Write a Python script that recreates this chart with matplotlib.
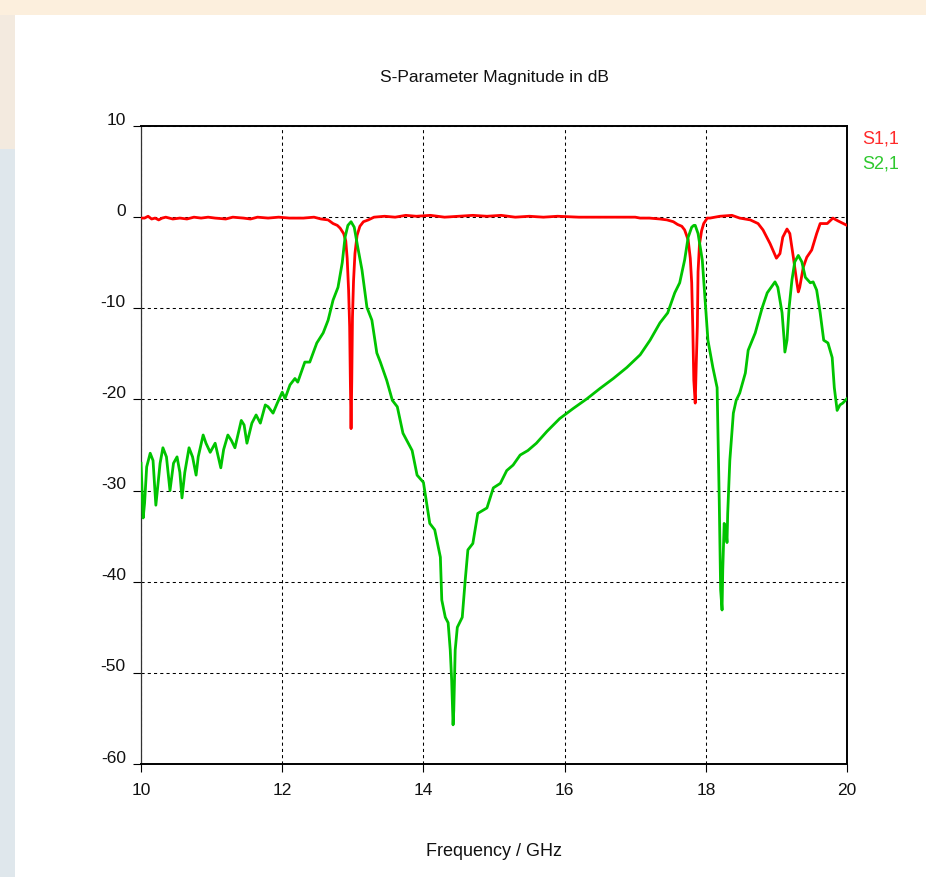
#!/usr/bin/env python3
"""S-Parameter magnitude (S1,1 / S2,1) of a dual-band filter, 10-20 GHz."""

import matplotlib
matplotlib.use('Agg')
import matplotlib.pyplot as plt
import matplotlib.patches as mpatches
from matplotlib.transforms import ScaledTranslation

FONT = ['Liberation Sans', 'DejaVu Sans']
plt.rcParams['axes.unicode_minus'] = False

# ─── Data ───

s11_freq = [10.0, 10.05, 10.1, 10.15, 10.2, 10.25, 10.3, 10.35, 10.45, 10.55,
            10.65, 10.75, 10.85, 10.95, 11.05, 11.2, 11.3, 11.45, 11.55, 11.65,
            11.8, 11.95, 12.1, 12.3, 12.45, 12.55, 12.65, 12.72, 12.78, 12.82,
            12.87, 12.9, 12.92, 12.94, 12.955, 12.965, 12.975, 12.985, 12.995,
            13.01, 13.03, 13.06, 13.1, 13.15, 13.22, 13.3, 13.45, 13.6, 13.75,
            13.9, 14.1, 14.3, 14.5, 14.7, 14.9, 15.1, 15.3, 15.5, 15.7, 15.9,
            16.2, 16.6, 17.0, 17.07, 17.2, 17.35, 17.45, 17.54, 17.6, 17.66,
            17.7, 17.75, 17.78, 17.8, 17.815, 17.83, 17.85, 17.865, 17.88,
            17.89, 17.91, 17.94, 17.97, 18.02, 18.06, 18.2, 18.37, 18.48,
            18.63, 18.74, 18.81, 18.91, 19.0, 19.05, 19.09, 19.15, 19.19,
            19.24, 19.29, 19.31, 19.33, 19.38, 19.43, 19.5, 19.57, 19.62,
            19.72, 19.8, 19.87, 20.0]
s11_db = [-0.1, -0.1, 0.1, -0.2, -0.1, -0.3, -0.1, 0.0, -0.2, -0.1,
          -0.2, 0.0, -0.1, 0.0, -0.1, -0.2, 0.0, -0.1, -0.2, 0.0,
          -0.1, 0.0, -0.1, -0.1, 0.0, -0.2, -0.3, -0.7, -0.9, -1.2,
          -1.8, -2.6, -4.5, -8.0, -12.0, -18.0, -23.2, -18.0, -11.0,
          -7.0, -4.0, -2.0, -1.0, -0.5, -0.3, 0.0, 0.1, 0.0, 0.2,
          0.1, 0.2, 0.0, 0.1, 0.2, 0.1, 0.2, 0.0, 0.1, 0.0, 0.1,
          0.0, 0.0, 0.0, -0.1, -0.1, -0.2, -0.3, -0.5, -0.8, -1.0,
          -1.4, -2.5, -4.5, -7.2, -12.0, -17.9, -20.4, -16.0, -12.0,
          -6.0, -3.0, -1.5, -0.7, -0.1, -0.1, 0.1, 0.2, -0.1,
          -0.3, -0.7, -1.4, -2.9, -4.5, -4.0, -2.2, -1.3, -1.8,
          -4.4, -7.2, -8.2, -7.7, -5.5, -4.4, -3.6, -1.8, -0.7,
          -0.7, -0.1, -0.4, -0.9]

s21_freq = [10.0, 10.03, 10.05, 10.08, 10.13, 10.17, 10.21, 10.27, 10.31,
            10.36, 10.41, 10.46, 10.51, 10.55, 10.58, 10.62, 10.68, 10.73,
            10.78, 10.81, 10.88, 10.92, 10.98, 11.05, 11.13, 11.17, 11.23,
            11.28, 11.33, 11.42, 11.46, 11.5, 11.57, 11.63, 11.69, 11.76,
            11.8, 11.87, 11.93, 12.0, 12.04, 12.11, 12.18, 12.22, 12.32,
            12.39, 12.49, 12.58, 12.65, 12.72, 12.79, 12.85, 12.89, 12.93,
            12.975, 13.02, 13.07, 13.13, 13.2, 13.27, 13.34, 13.39, 13.48,
            13.56, 13.63, 13.71, 13.84, 13.91, 14.0, 14.09, 14.16, 14.24,
            14.26, 14.31, 14.35, 14.38, 14.4, 14.42, 14.43, 14.45, 14.48,
            14.55, 14.59, 14.63, 14.7, 14.77, 14.9, 14.99, 15.09, 15.18,
            15.27, 15.37, 15.48, 15.6, 15.75, 15.93, 16.12, 16.32, 16.5,
            16.69, 16.88, 17.07, 17.21, 17.35, 17.46, 17.56, 17.63, 17.7,
            17.75, 17.8, 17.83, 17.85, 17.89, 17.95, 17.99, 18.03, 18.1,
            18.16, 18.17, 18.19, 18.21, 18.23, 18.24, 18.26, 18.29, 18.3,
            18.31, 18.34, 18.39, 18.43, 18.48, 18.56, 18.6, 18.7, 18.8,
            18.87, 18.98, 19.02, 19.08, 19.11, 19.12, 19.15, 19.18, 19.22,
            19.26, 19.31, 19.36, 19.41, 19.48, 19.52, 19.57, 19.62, 19.67,
            19.73, 19.79, 19.82, 19.86, 19.9, 19.94, 20.0]
s21_db = [-27.0, -33.0, -31.4, -27.4, -25.9, -26.7, -31.6, -27.0, -25.3,
          -26.3, -30.0, -27.0, -26.3, -28.0, -30.8, -28.0, -25.3, -26.3,
          -28.3, -26.3, -23.9, -24.8, -25.8, -24.8, -27.5, -25.5, -23.9,
          -24.5, -25.3, -22.3, -22.8, -24.8, -22.6, -21.7, -22.6, -20.6,
          -20.8, -21.5, -20.4, -19.2, -19.9, -18.4, -17.7, -18.1, -15.9,
          -15.9, -13.8, -12.7, -11.3, -9.1, -7.7, -5.0, -2.2, -0.9,
          -0.5, -1.1, -3.3, -5.8, -9.9, -11.3, -14.9, -15.9, -17.9,
          -20.1, -20.8, -23.7, -25.6, -28.3, -29.1, -33.6, -34.3, -37.3,
          -42.0, -43.9, -44.5, -47.5, -50.8, -55.7, -54.1, -47.5, -45.0,
          -43.9, -40.0, -36.5, -35.8, -32.5, -31.9, -29.7, -29.2, -27.8,
          -27.2, -26.1, -25.6, -24.8, -23.5, -22.1, -21.0, -19.9, -18.8,
          -17.7, -16.5, -15.1, -13.5, -11.6, -10.5, -8.3, -7.2, -4.7,
          -2.2, -1.1, -0.9, -0.9, -1.8, -4.7, -9.1, -13.5, -16.5,
          -18.7, -23.0, -31.0, -40.9, -43.1, -38.7, -33.6, -34.7, -35.7,
          -32.5, -26.7, -21.5, -20.1, -19.3, -17.1, -14.6, -12.7, -9.9,
          -8.3, -7.1, -7.7, -10.5, -13.5, -14.8, -13.5, -9.9, -6.9,
          -4.9, -4.2, -4.9, -6.6, -7.2, -7.1, -8.0, -10.5, -13.5,
          -13.8, -15.4, -18.7, -21.2, -20.6, -20.4, -19.9]

x_ticks = [10, 12, 14, 16, 18, 20]
y_ticks = [10, 0, -10, -20, -30, -40, -50, -60]

C_S11 = '#ff0000'
C_S21 = '#00c400'

# ─── Figure with the screenshot-like border ───

fig = plt.figure(figsize=(9.26, 8.77), dpi=100)
fig.patch.set_facecolor('#dfe7ec')
border = [
    ((0, 0.83), 0.017, 0.17, '#f3eadf'),
    ((0, 0.983), 1, 0.017, '#fcefdd'),
    ((0.0162, 0), 1, 0.983, 'white'),
]
for xy, w, h, c in border:
    fig.patches.append(mpatches.Rectangle(xy, w, h, transform=fig.transFigure,
                                          facecolor=c, edgecolor='none', zorder=-5))

ax = fig.add_axes([0.1523, 0.1288, 0.7624, 0.7275])
ax.set_facecolor('white')

ax.plot(s11_freq, s11_db, color=C_S11, lw=2.0, label='S1,1', zorder=3)
ax.plot(s21_freq, s21_db, color=C_S21, lw=2.0, label='S2,1', zorder=3)

ax.set_xlim(10, 20)
ax.set_ylim(-60, 10)
ax.set_xticks(x_ticks)
ax.set_yticks(y_ticks)

ax.grid(True, color='black', linestyle=(0, (3, 3)), linewidth=0.75, zorder=1)

for side in ['top', 'bottom', 'right']:
    ax.spines[side].set_linewidth(1.4)
    ax.spines[side].set_color('black')
ax.spines['left'].set_linewidth(0.9)
ax.spines['left'].set_color('#333333')

ax.tick_params(axis='both', direction='out', length=6, width=0.8, color='black',
               labelsize=12.5, labelcolor='#111111')
ax.tick_params(axis='y', pad=5)
ax.tick_params(axis='x', pad=8)
for lab in ax.get_yticklabels() + ax.get_xticklabels():
    lab.set_family(FONT)
# y labels sit a little above their gridline
for lab in ax.get_yticklabels():
    lab.set_transform(lab.get_transform() + ScaledTranslation(0, 0.075, fig.dpi_scale_trans))

ax.set_title('S-Parameter Magnitude in dB', fontsize=12.5, family=FONT, pad=32,
             color='#111111')
ax.set_xlabel('Frequency / GHz', fontsize=13, family=FONT, labelpad=32,
              color='#111111')

leg = ax.legend(loc='upper left', bbox_to_anchor=(1.021, 0.993), frameon=False,
                handlelength=0, handletextpad=0, borderaxespad=0, borderpad=0,
                labelspacing=0.45, labelcolor=['#ff2a2a', '#2ec82e'],
                prop={'family': FONT, 'size': 13})

fig.savefig('out.png', dpi=100, facecolor=fig.get_facecolor())
